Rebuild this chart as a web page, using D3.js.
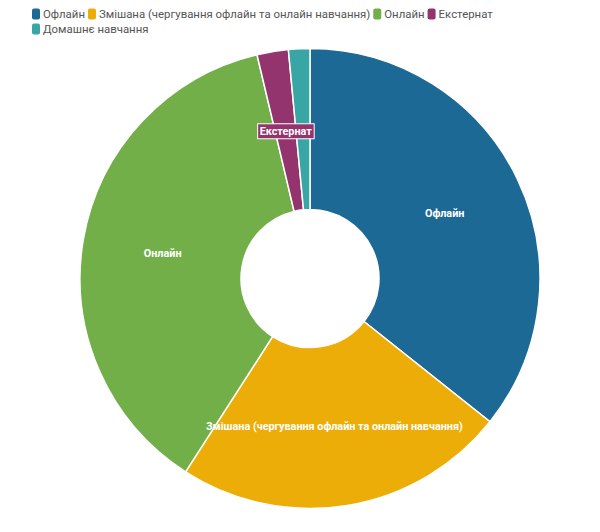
<!DOCTYPE html>
<html>
<head>
<meta charset="utf-8">
<script src="https://cdn.jsdelivr.net/npm/d3@7"></script>
<style>
  body { margin: 0; background: #fff; }
  svg { display: block; font-family: Roboto, "Noto Sans", sans-serif; }
</style>
</head>
<body>
<svg id="chart" width="600" height="532"></svg>
<script>
// chart data
var categories = ["Офлайн", "Змішана (чергування офлайн та онлайн навчання)", "Онлайн", "Екстернат", "Домашнє навчання"];
var shares = [35.7, 23.4, 37.2, 2.2, 1.5];
var colors = ["#1d6996", "#edad08", "#73af48", "#94346e", "#38a6a5"];
var labelled = [true, true, true, true, false];

var width = 600, height = 532;
var cx = 310, cy = 278.5;
var outerR = 230, innerR = 69;

var svg = d3.select("#chart");

var data = categories.map(function(c, i) {
  return { name: c, value: shares[i], color: colors[i], label: labelled[i] };
});

var color = d3.scaleOrdinal().domain(categories).range(colors);

// legend, wrapped
var legend = svg.append("g").attr("class", "legend");
var lx = 32, ly = 14, maxX = 560;
data.forEach(function(d) {
  var item = legend.append("g");
  item.append("rect")
    .attr("x", 0).attr("y", -5.5)
    .attr("width", 8).attr("height", 11)
    .attr("rx", 2)
    .attr("fill", color(d.name));
  var t = item.append("text")
    .attr("x", 11).attr("y", 0)
    .attr("dy", "0.35em")
    .attr("font-size", "11.4px")
    .attr("fill", "#555")
    .text(d.name);
  var w = 11 + t.node().getComputedTextLength();
  if (lx + w > maxX && lx > 32) { lx = 32; ly += 15; }
  item.attr("transform", "translate(" + lx + "," + ly + ")");
  lx += w + 3;
});

var pie = d3.pie().sort(null).value(function(d) { return d.value; });
var arc = d3.arc().outerRadius(outerR).innerRadius(innerR);
var arcs = pie(data);

var g = svg.append("g").attr("transform", "translate(" + cx + "," + cy + ")");

g.selectAll("path.slice")
  .data(arcs)
  .enter().append("path")
  .attr("class", "slice")
  .attr("d", arc)
  .attr("fill", function(d) { return color(d.data.name); })
  .attr("stroke", "#fff")
  .attr("stroke-width", 1.5);

// labels at arc centroid
var labels = g.selectAll("g.lbl")
  .data(arcs.filter(function(d) { return d.data.label; }))
  .enter().append("g")
  .attr("class", "lbl")
  .attr("transform", function(d) { return "translate(" + arc.centroid(d) + ")"; });

labels.append("text")
  .attr("text-anchor", "middle")
  .attr("dy", "0.35em")
  .attr("font-size", "10.8px")
  .attr("font-weight", "bold")
  .attr("fill", "#fff")
  .text(function(d) { return d.data.name; })
  .each(function(d) {
    // small slices get a boxed label
    if (d.endAngle - d.startAngle < 0.3) {
      var bb = this.getBBox();
      d3.select(this.parentNode).insert("rect", "text")
        .attr("x", bb.x - 2).attr("y", bb.y - 1)
        .attr("width", bb.width + 4).attr("height", bb.height + 2)
        .attr("fill", color(d.data.name))
        .attr("stroke", "#fff")
        .attr("stroke-width", 1);
    }
  });
</script>
</body>
</html>
